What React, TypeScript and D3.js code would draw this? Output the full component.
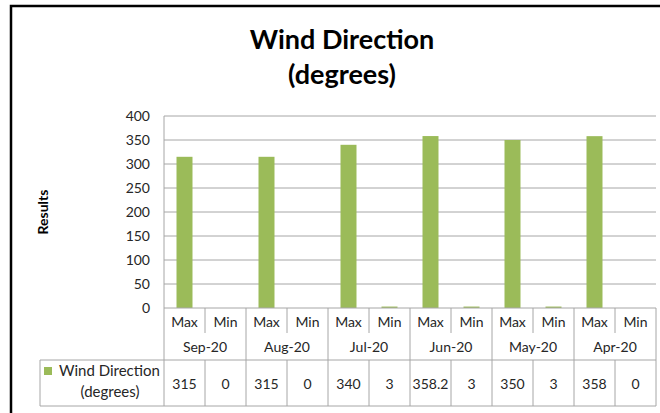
import React from "react";
import * as d3 from "d3";

// chart data
const months = ["Sep-20", "Aug-20", "Jul-20", "Jun-20", "May-20", "Apr-20"];
const kinds = ["Max", "Min"];
const maxValues = [315, 315, 340, 358.2, 350, 358];
const minValues = [0, 0, 3, 3, 3, 0];
const tableLabels = ["315", "0", "315", "0", "340", "3", "358.2", "3", "350", "3", "358", "0"];
const yTicks = [0, 50, 100, 150, 200, 250, 300, 350, 400];

const W = 660;
const H = 413;
const FONT = "Lato, 'Open Sans', sans-serif";
const GREEN = "#9BBB59";
const GRID = "#a6a6a6";

export default function App() {
    const plot = { left: 164, right: 656, top: 116, bottom: 308 };

    const cells = months.flatMap((m, i) =>
        kinds.map((k) => ({
            key: `${m}-${k}`,
            month: m,
            kind: k,
            value: k === "Max" ? maxValues[i] : minValues[i],
        })),
    );
    cells.forEach((c, i) => ((c as any).label = tableLabels[i]));

    const x = d3
        .scaleBand<string>()
        .domain(cells.map((c) => c.key))
        .range([plot.left, plot.right])
        .padding(0);

    const y = d3.scaleLinear().domain([0, 400]).range([plot.bottom, plot.top]);

    const bw = x.bandwidth();
    const barW = bw * 0.39;

    const rowKind = 333;
    const rowMonth = 360;
    const rowEnd = 406;
    const legendLeft = 40;

    return (
        <svg width={W} height={H} style={{ position: "absolute", left: 0, top: 0 }} fontFamily={FONT}>
            <rect x={0} y={0} width={W} height={H} fill="#fff" />
            {/* outer frame (right side cropped) */}
            <path d={`M11,${H} L11,6 L${W},6`} fill="none" stroke="#000" strokeWidth={2.5} />

            <text x={342} y={49} textAnchor="middle" fontSize={27} fontWeight="bold" fill="#000">
                Wind Direction
            </text>
            <text x={342} y={84} textAnchor="middle" fontSize={27} fontWeight="bold" fill="#000">
                (degrees)
            </text>

            <text
                transform={`translate(48,${(plot.top + plot.bottom) / 2}) rotate(-90)`}
                textAnchor="middle"
                fontSize={14}
                fontWeight="bold"
                fill="#000"
            >
                Results
            </text>

            {/* gridlines */}
            {yTicks.map((t) => (
                <g key={t}>
                    {t > 0 && (
                        <line x1={plot.left} x2={plot.right} y1={y(t)} y2={y(t)} stroke={GRID} strokeWidth={1} />
                    )}
                    <text x={150} y={y(t)} dy="0.35em" textAnchor="end" fontSize={14} fill="#262626">
                        {t}
                    </text>
                </g>
            ))}
            <line x1={plot.left} x2={plot.left} y1={plot.top} y2={rowEnd} stroke={GRID} />

            {/* bars */}
            {cells.map((c) => (
                <rect
                    key={c.key}
                    x={(x(c.key) as number) + (bw - barW) / 2}
                    y={y(c.value)}
                    width={barW}
                    height={y(0) - y(c.value)}
                    fill={GREEN}
                />
            ))}

            {/* data table */}
            <line x1={plot.left} x2={plot.right} y1={plot.bottom} y2={plot.bottom} stroke={GRID} />
            <line x1={legendLeft} x2={plot.right} y1={rowMonth} y2={rowMonth} stroke={GRID} />
            <line x1={legendLeft} x2={plot.right} y1={rowEnd} y2={rowEnd} stroke={GRID} />
            <line x1={legendLeft} x2={legendLeft} y1={rowMonth} y2={rowEnd} stroke={GRID} />
            {cells.map((c, i) => {
                const x0 = x(c.key) as number;
                const isMonthEdge = i % 2 === 1;
                return (
                    <g key={"t" + c.key}>
                        {isMonthEdge ? (
                            <line x1={x0 + bw} x2={x0 + bw} y1={plot.bottom} y2={rowEnd} stroke={GRID} />
                        ) : (
                            <>
                                <line x1={x0 + bw} x2={x0 + bw} y1={plot.bottom} y2={rowKind} stroke={GRID} />
                                <line x1={x0 + bw} x2={x0 + bw} y1={rowMonth} y2={rowEnd} stroke={GRID} />
                            </>
                        )}
                        <text x={x0 + bw / 2} y={322} dy="0.35em" textAnchor="middle" fontSize={14} fill="#262626">
                            {c.kind}
                        </text>
                        <text x={x0 + bw / 2} y={384} dy="0.35em" textAnchor="middle" fontSize={14} fill="#262626">
                            {(c as any).label}
                        </text>
                    </g>
                );
            })}
            {months.map((m) => (
                <text
                    key={m}
                    x={(x(`${m}-Max`) as number) + bw}
                    y={347}
                    dy="0.35em"
                    textAnchor="middle"
                    fontSize={14}
                    fill="#262626"
                >
                    {m}
                </text>
            ))}

            {/* legend key */}
            <rect x={44} y={367} width={8} height={8} fill={GREEN} />
            <text x={59} y={371} dy="0.35em" fontSize={15} fill="#262626">
                Wind Direction
            </text>
            <text x={110} y={392} dy="0.35em" textAnchor="middle" fontSize={15} fill="#262626">
                (degrees)
            </text>
        </svg>
    );
}
